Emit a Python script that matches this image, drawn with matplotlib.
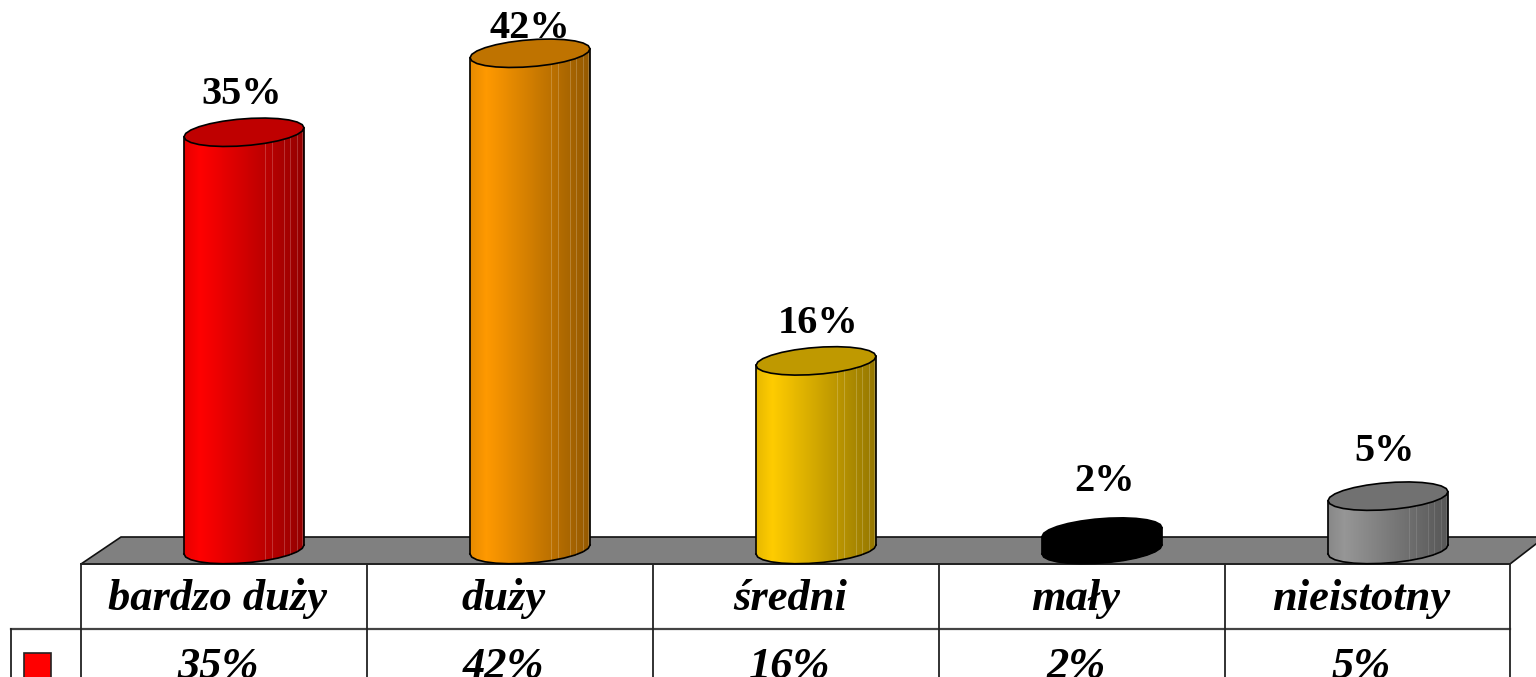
import numpy as np
import matplotlib
matplotlib.use("Agg")
import matplotlib.pyplot as plt
from matplotlib.collections import PolyCollection
from matplotlib.colors import to_rgb
from matplotlib.patches import Polygon, Rectangle

categories = ["bardzo duży", "duży", "średni", "mały", "nieistotny"]
values = [35.4, 42.0, 16.3, 2.0, 5.0]
value_labels = ["35%", "42%", "16%", "2%", "5%"]
colors = ["#ff0000", "#ff9900", "#ffcc00", "#000000", "#969696"]
label_offsets_px = [(-2, 28), (0, 15), (2, 28), (3, 41), (-3, 35)]

W, H = 1536, 677
X0, DX = 244.0, 286.0      # pixel of the first category, pixels per category
Y0, DY = 556.0, 11.97      # pixel of value 0, pixels per percent
SERIF = "Liberation Serif"

fig = plt.figure(figsize=(W / 100, H / 100), dpi=100, facecolor="white")
ax = fig.add_axes([0, 0, 1, 1])
ax.set_xlim(-X0 / DX, (W - X0) / DX)
ax.set_ylim((Y0 - H) / DY, Y0 / DY)
ax.axis("off")

# overlay in pixels for chart furniture (floor, table)
px = fig.add_axes([0, 0, 1, 1], sharex=None)
px.set_xlim(0, W)
px.set_ylim(H, 0)
px.axis("off")
px.patch.set_alpha(0)
ax.set_zorder(2)
ax.patch.set_alpha(0)
px.set_zorder(1)

px.add_patch(Polygon([(81, 564), (121, 537), (1545, 537), (1510, 564)],
                     closed=True, fc="#808080", ec="#111111", lw=1.2, zorder=1))

half_w = 60 / DX
half_h = 13.5 / DY
shear = 4.5 / DY
base = (Y0 - 549.5) / DY   # centre of the cylinder foot, just above value 0
ramp_u = [-1.0, -0.72, 1.0]
ramp_f = [0.90, 1.00, 0.58]
glints = [0.35, 0.47, 0.67, 0.77, 0.88, 0.97]
t = np.linspace(0, 2 * np.pi, 27)


def outline(cx, cy):
    u = np.cos(t)
    return np.c_[cx + half_w * u, cy + half_h * np.sin(t) + shear * u]


for i, (v, c) in enumerate(zip(values, colors)):
    rgb = np.array(to_rgb(c))
    # facetted arcs, front of the top disc and front of the foot
    tf = np.linspace(np.pi, 2 * np.pi, 14)
    uf = np.cos(tf)
    lower = half_h * np.sin(tf) + shear * uf
    order = np.argsort(uf)
    edges = np.linspace(-1, 1, 121)
    low = np.interp(edges, uf[order], lower[order])
    polys, faces = [], []
    for k in range(len(edges) - 1):
        a, b = edges[k], edges[k + 1]
        xa, xb = i + half_w * a, i + half_w * b
        polys.append([(xa, base + low[k]), (xb, base + low[k + 1]),
                      (xb, v + low[k + 1]), (xa, v + low[k])])
        f = np.interp((a + b) / 2, ramp_u, ramp_f)
        faces.append(tuple(rgb * f))
    ax.add_collection(PolyCollection(polys, facecolors=faces, edgecolors=faces,
                                     linewidths=0.3, zorder=3))
    # thin light streaks on the shaded side
    for g in glints:
        yl = np.interp(g, edges, low)
        ax.plot([i + half_w * g] * 2, [base + yl, v + yl], color="white",
                alpha=0.2 * rgb.max(), lw=0.7, zorder=4)
    # silhouette and top disc
    top = outline(i, v)
    ax.plot([i - half_w] * 2, [base - shear, v - shear], color="black", lw=1.2, zorder=5)
    ax.plot([i + half_w] * 2, [base + shear, v + shear], color="black", lw=1.2, zorder=5)
    ax.plot(i + half_w * uf, base + lower, color="black", lw=1.2, zorder=5)
    ax.add_patch(Polygon(top, closed=True, fc=tuple(rgb * 0.75) if rgb.max() > 0 else "black",
                         ec="black", lw=1.2, zorder=6))
    ox, oy = label_offsets_px[i]
    ax.annotate(value_labels[i], (i, v), xytext=(ox * 0.72, oy * 0.72),
                textcoords="offset points", ha="center", va="baseline",
                family=SERIF, weight="bold", size=29, zorder=7, annotation_clip=False)

# data table
col_x = [81, 367, 653, 939, 1225, 1510]
grid = dict(color="#222222", lw=1.3, zorder=2)
px.plot([81, 1510], [564, 564], **grid)
px.plot([11, 1510], [629, 629], color="#444444", lw=1.6, zorder=2)
for x in col_x:
    px.plot([x, x], [564, H], **grid)
px.plot([11, 11], [629, H], **grid)
px.add_patch(Rectangle((24, 653), 27, 30, fc=colors[0], ec="#222222", lw=1.2, zorder=2))
for i, (cat, lab) in enumerate(zip(categories, value_labels)):
    cx = (col_x[i] + col_x[i + 1]) / 2 - 6
    px.text(cx, 610, cat, ha="center", va="baseline", family=SERIF,
            style="italic", weight="bold", size=32)
    px.text(cx, 678, lab, ha="center", va="baseline", family=SERIF,
            style="italic", weight="bold", size=32)

fig.savefig("out.png", dpi=100, facecolor="white")
